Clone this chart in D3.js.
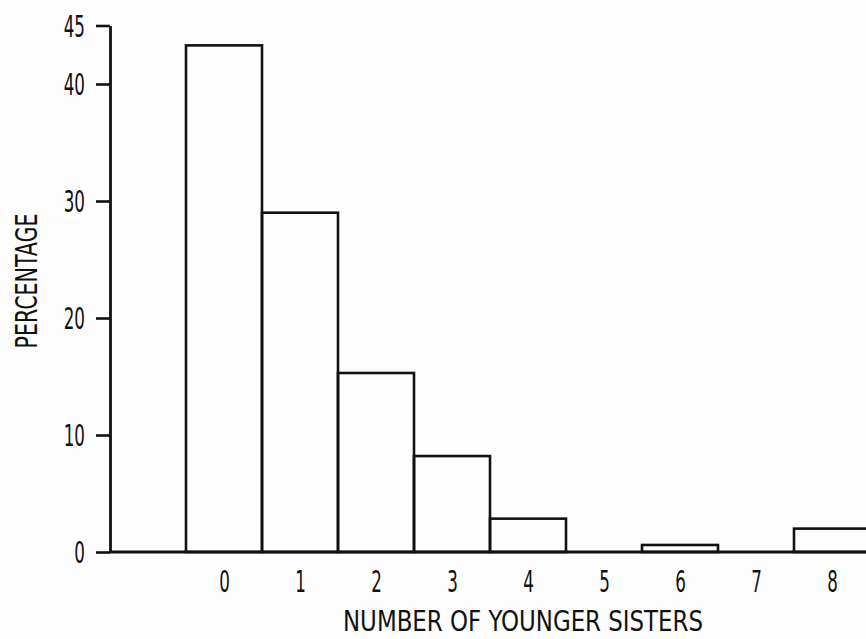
<!DOCTYPE html>
<html lang="en">
<head>
<meta charset="utf-8">
<title>Number of younger sisters</title>
<script src="https://d3js.org/d3.v7.min.js"></script>
<style>
  html, body { margin: 0; padding: 0; background: #fdfdfd; }
  svg { display: block; }
  .lbl { font-family: "Liberation Sans Narrow", "DejaVu Sans Condensed", sans-serif; fill: #111; }
</style>
</head>
<body>
<div class="chart"></div>
<script>
// values
var sisters = [0, 1, 2, 3, 4, 5, 6, 7, 8];
var percentage = [43.3, 29.0, 15.3, 8.2, 2.85, 0, 0.6, 0, 2.0];
var yTickValues = [0, 10, 20, 30, 40, 45];
var xTitle = "NUMBER OF YOUNGER SISTERS";
var yTitle = "PERCENTAGE";

var width = 866, height = 639;
var squeeze = 0.62; // narrow lettering like the original
var ink = "#111";

var svg = d3.select(".chart").append("svg")
  .attr("width", width)
  .attr("height", height);

var x = d3.scaleLinear().domain([-1, 9]).range([110, 870]);
var y = d3.scaleLinear().domain([0, 45]).range([552, 25.5]);

// bars
svg.selectAll(".bar")
  .data(sisters.filter(function(d, i){ return percentage[i] > 0; }))
  .enter()
  .append("rect")
  .attr("class", "bar")
  .attr("x", function(d){ return x(d); })
  .attr("y", function(d){ return y(percentage[d]); })
  .attr("width", function(d){ return x(d + 1) - x(d); })
  .attr("height", function(d){ return y(0) - y(percentage[d]); })
  .attr("fill", "none")
  .attr("stroke", ink)
  .attr("stroke-width", 2.6);

// baseline
svg.append("line")
  .attr("x1", x(-1)).attr("x2", width)
  .attr("y1", y(0)).attr("y2", y(0))
  .attr("stroke", ink)
  .attr("stroke-width", 2.8);

// y axis
var yAxis = svg.append("g")
  .attr("transform", "translate(" + x(-1) + ",0)")
  .call(d3.axisLeft(y).tickValues(yTickValues).tickSize(14).tickSizeOuter(0));

yAxis.select(".domain").attr("stroke", ink).attr("stroke-width", 2.8);
yAxis.selectAll(".tick line").attr("stroke", ink).attr("stroke-width", 2.6);
yAxis.selectAll(".tick text")
  .attr("class", "lbl")
  .attr("font-size", 30)
  .attr("x", -25 / squeeze)
  .attr("dy", "0.36em")
  .attr("transform", "scale(" + squeeze + ",1)");

// x axis labels (centred under bars)
var xAxis = svg.append("g")
  .attr("transform", "translate(0," + y(0) + ")")
  .call(d3.axisBottom(x)
    .tickValues(sisters.map(function(d){ return d + 0.5; }))
    .tickFormat(function(d){ return d3.format("d")(d - 0.5); })
    .tickSize(0));

xAxis.select(".domain").remove();
xAxis.selectAll(".tick text")
  .attr("class", "lbl")
  .attr("font-size", 30)
  .attr("y", 19)
  .attr("text-anchor", "middle")
  .attr("transform", "scale(" + squeeze + ",1)");

// axis titles
svg.append("text")
  .attr("class", "lbl")
  .attr("x", 523)
  .attr("y", 631)
  .attr("text-anchor", "middle")
  .attr("font-size", 28)
  .attr("textLength", 360)
  .attr("lengthAdjust", "spacingAndGlyphs")
  .text(xTitle);

svg.append("text")
  .attr("class", "lbl")
  .attr("transform", "translate(37,281) rotate(-90)")
  .attr("text-anchor", "middle")
  .attr("font-size", 30)
  .attr("textLength", 135)
  .attr("lengthAdjust", "spacingAndGlyphs")
  .text(yTitle);
</script>
</body>
</html>
